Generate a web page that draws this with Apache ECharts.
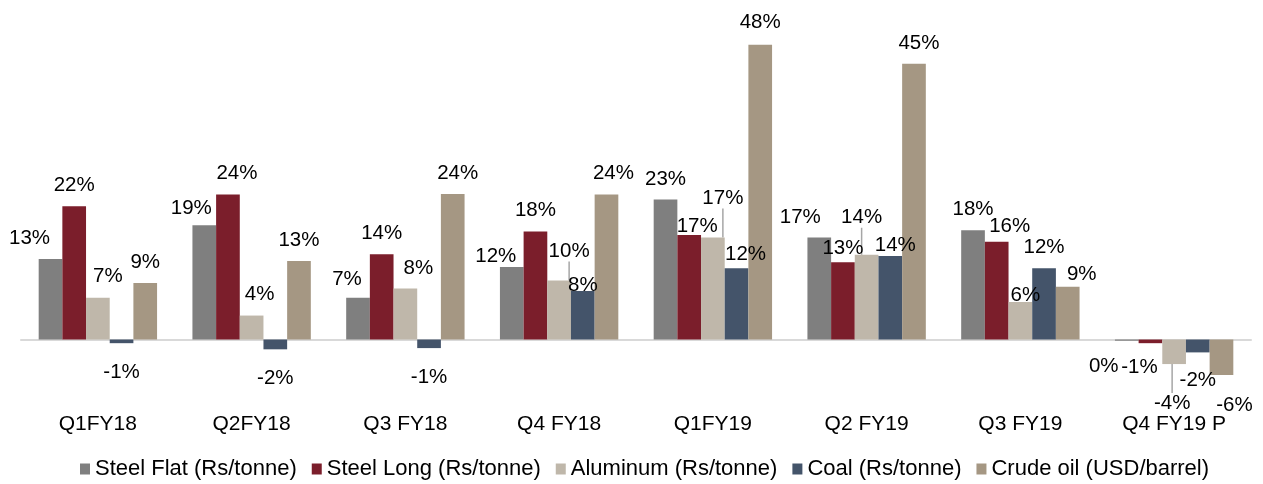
<!DOCTYPE html>
<html lang="en">
<head>
    <meta charset="UTF-8">
    <title>Commodity prices YoY</title>
    <script src="https://cdn.jsdelivr.net/npm/echarts@6/dist/echarts.min.js"></script>
    <style>
        html, body { margin: 0; padding: 0; background: #fff; }
        #main { width: 1263px; height: 484px; }
    </style>
</head>
<body>
<div id="main"></div>
<script>
    // categories and series (YoY change, %)
    var quarters = ['Q1FY18', 'Q2FY18', 'Q3 FY18', 'Q4 FY18', 'Q1FY19', 'Q2 FY19', 'Q3 FY19', 'Q4 FY19 P'];
    var steelFlat = [13.1, 18.6, 6.8, 11.8, 22.8, 16.6, 17.8, -0.2];
    var steelLong = [21.7, 23.6, 13.9, 17.6, 17.0, 12.6, 15.9, -0.6];
    var aluminum = [6.8, 3.9, 8.3, 9.6, 16.6, 13.8, 6.1, -4.0];
    var coal = [-0.6, -1.6, -1.4, 7.9, 11.6, 13.6, 11.6, -2.1];
    var crude = [9.2, 12.8, 23.7, 23.6, 48.0, 44.9, 8.6, -5.8];

    var seriesNames = ['Steel Flat (Rs/tonne)', 'Steel Long (Rs/tonne)', 'Aluminum (Rs/tonne)', 'Coal (Rs/tonne)', 'Crude oil (USD/barrel)'];
    var colors = ['#7f7f7f', '#7b1e2b', '#bfb7aa', '#44546a', '#a59783'];

    // label nudges [dx, dy] so labels sit where the original put them
    var labelShift = [
        [[-21, 0], [-13, 4], [-11, 2], [-16, 10], [0, 0], [-19, 0], [0, 0], [-23, -4]],
        [[0, 0], [9, -1], [0, 0], [0, -1], [8, 12], [0, 7], [13, 5], [-11, -5]],
        [[10, -1], [8, -1], [13, 0], [10, -9], [10, -19], [-5, -17], [5, 14], [-2, 10]],
        [[0, 0], [0, 0], [0, 0], [0, 15], [9, 7], [5, 10], [0, 0], [0, -2]],
        [[0, 0], [0, 0], [5, 0], [7, -1], [0, -2], [5, 0], [14, 8], [13, 1]]
    ];
    // which labels get a leader line
    var leaderLines = [[], [], [3, 4, 5, 7], [], []];

    var values = [steelFlat, steelLong, aluminum, coal, crude];

    var series = values.map(function (vals, s) {
        return {
            name: seriesNames[s],
            type: 'bar',
            barGap: 0,
            barCategoryGap: '23%',
            itemStyle: { color: colors[s] },
            label: {
                show: true,
                color: '#000',
                fontSize: 20.5,
                fontFamily: 'Liberation Sans, Arial, sans-serif',
                formatter: function (p) { return Math.round(p.value) + '%'; }
            },
            labelLine: { show: false, lineStyle: { color: '#a6a6a6', width: 1.5 } },
            labelLayout: function (p) {
                var d = labelShift[p.seriesIndex][p.dataIndex];
                return { dx: d[0], dy: d[1] };
            },
            emphasis: { disabled: true },
            data: vals.map(function (v, i) {
                return {
                    value: v,
                    label: { position: v < 0 ? 'bottom' : 'top', distance: v < 0 ? 19 : 10 },
                    labelLine: { show: leaderLines[s].indexOf(i) > -1 }
                };
            })
        };
    });

    var myChart = echarts.init(document.getElementById('main'));
    myChart.setOption({
        animation: false,
        color: colors,
        grid: { left: 21, right: 12, top: 32.5, bottom: 83.1, outerBoundsMode: 'none' },
        legend: {
            top: 453,
            left: 75,
            icon: 'rect',
            itemWidth: 10,
            itemHeight: 11,
            itemGap: 15,
            textStyle: { fontSize: 22, color: '#000', fontFamily: 'Liberation Sans, Arial, sans-serif' },
            data: seriesNames
        },
        xAxis: {
            type: 'category',
            data: quarters,
            axisLine: { onZero: true, lineStyle: { color: '#d9d9d9', width: 2 } },
            axisTick: { show: false },
            axisLabel: {
                margin: 13,
                fontSize: 21,
                color: '#000',
                fontFamily: 'Liberation Sans, Arial, sans-serif'
            }
        },
        yAxis: {
            type: 'value',
            min: -10,
            max: 50,
            show: false,
            splitLine: { show: false }
        },
        series: series
    });
</script>
</body>
</html>
